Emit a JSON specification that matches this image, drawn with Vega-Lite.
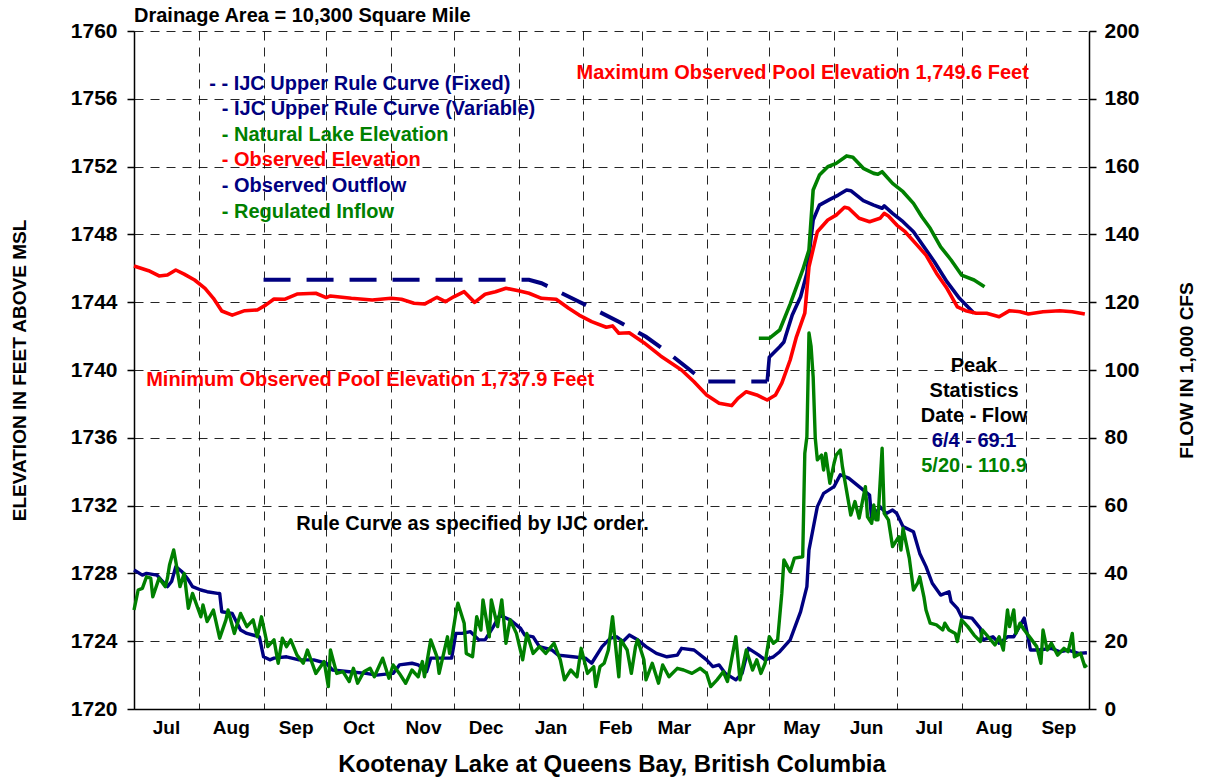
{
  "$schema": "https://vega.github.io/schema/vega-lite/v6.json",
  "width": 955,
  "height": 678,
  "autosize": {"type": "none"},
  "padding": {"left": 134, "top": 31, "right": 117, "bottom": 72},
  "background": "white",
  "config": {"font": "Liberation Sans", "view": {"stroke": null}},
  "datasets": {
    "elevation": [
      {"series": "IJC Upper Rule Curve (Fixed)", "date": "2021-09-01", "elev": 1745.32},
      {"series": "IJC Upper Rule Curve (Fixed)", "date": "2022-01-06", "elev": 1745.32},
      {"series": "IJC Upper Rule Curve (Fixed)", "date": "2022-01-12", "elev": 1745.12},
      {"series": "IJC Upper Rule Curve (Fixed)", "date": "2022-01-30", "elev": 1744.03},
      {"series": "IJC Upper Rule Curve (Fixed)", "date": "2022-02-18", "elev": 1742.85},
      {"series": "IJC Upper Rule Curve (Fixed)", "date": "2022-03-03", "elev": 1741.96},
      {"series": "IJC Upper Rule Curve (Fixed)", "date": "2022-03-13", "elev": 1741.08},
      {"series": "IJC Upper Rule Curve (Fixed)", "date": "2022-03-23", "elev": 1740.10},
      {"series": "IJC Upper Rule Curve (Fixed)", "date": "2022-03-29", "elev": 1739.51},
      {"series": "IJC Upper Rule Curve (Fixed)", "date": "2022-04-01", "elev": 1739.32},
      {"series": "IJC Upper Rule Curve (Fixed)", "date": "2022-04-30", "elev": 1739.32},

      {"series": "IJC Upper Rule Curve (Variable)", "date": "2022-04-30", "elev": 1739.32},
      {"series": "IJC Upper Rule Curve (Variable)", "date": "2022-05-01", "elev": 1740.75},
      {"series": "IJC Upper Rule Curve (Variable)", "date": "2022-05-06", "elev": 1741.37},
      {"series": "IJC Upper Rule Curve (Variable)", "date": "2022-05-08", "elev": 1741.65},
      {"series": "IJC Upper Rule Curve (Variable)", "date": "2022-05-09", "elev": 1742.06},
      {"series": "IJC Upper Rule Curve (Variable)", "date": "2022-05-12", "elev": 1743.24},
      {"series": "IJC Upper Rule Curve (Variable)", "date": "2022-05-16", "elev": 1744.32},
      {"series": "IJC Upper Rule Curve (Variable)", "date": "2022-05-19", "elev": 1745.71},
      {"series": "IJC Upper Rule Curve (Variable)", "date": "2022-05-22", "elev": 1748.85},
      {"series": "IJC Upper Rule Curve (Variable)", "date": "2022-05-25", "elev": 1749.73},
      {"series": "IJC Upper Rule Curve (Variable)", "date": "2022-05-30", "elev": 1750.07},
      {"series": "IJC Upper Rule Curve (Variable)", "date": "2022-06-03", "elev": 1750.32},
      {"series": "IJC Upper Rule Curve (Variable)", "date": "2022-06-07", "elev": 1750.62},
      {"series": "IJC Upper Rule Curve (Variable)", "date": "2022-06-09", "elev": 1750.58},
      {"series": "IJC Upper Rule Curve (Variable)", "date": "2022-06-15", "elev": 1749.99},
      {"series": "IJC Upper Rule Curve (Variable)", "date": "2022-06-20", "elev": 1749.73},
      {"series": "IJC Upper Rule Curve (Variable)", "date": "2022-06-24", "elev": 1749.54},
      {"series": "IJC Upper Rule Curve (Variable)", "date": "2022-06-25", "elev": 1749.68},
      {"series": "IJC Upper Rule Curve (Variable)", "date": "2022-06-29", "elev": 1749.24},
      {"series": "IJC Upper Rule Curve (Variable)", "date": "2022-07-04", "elev": 1748.75},
      {"series": "IJC Upper Rule Curve (Variable)", "date": "2022-07-09", "elev": 1748.16},
      {"series": "IJC Upper Rule Curve (Variable)", "date": "2022-07-14", "elev": 1747.27},
      {"series": "IJC Upper Rule Curve (Variable)", "date": "2022-07-19", "elev": 1746.39},
      {"series": "IJC Upper Rule Curve (Variable)", "date": "2022-07-25", "elev": 1745.21},
      {"series": "IJC Upper Rule Curve (Variable)", "date": "2022-07-31", "elev": 1744.23},
      {"series": "IJC Upper Rule Curve (Variable)", "date": "2022-08-07", "elev": 1743.35},

      {"series": "Natural Lake Elevation", "date": "2022-04-26", "elev": 1741.87},
      {"series": "Natural Lake Elevation", "date": "2022-05-01", "elev": 1741.87},
      {"series": "Natural Lake Elevation", "date": "2022-05-06", "elev": 1742.36},
      {"series": "Natural Lake Elevation", "date": "2022-05-11", "elev": 1743.89},
      {"series": "Natural Lake Elevation", "date": "2022-05-17", "elev": 1745.90},
      {"series": "Natural Lake Elevation", "date": "2022-05-20", "elev": 1747.08},
      {"series": "Natural Lake Elevation", "date": "2022-05-22", "elev": 1750.62},
      {"series": "Natural Lake Elevation", "date": "2022-05-25", "elev": 1751.50},
      {"series": "Natural Lake Elevation", "date": "2022-05-29", "elev": 1751.99},
      {"series": "Natural Lake Elevation", "date": "2022-06-02", "elev": 1752.19},
      {"series": "Natural Lake Elevation", "date": "2022-06-07", "elev": 1752.63},
      {"series": "Natural Lake Elevation", "date": "2022-06-10", "elev": 1752.55},
      {"series": "Natural Lake Elevation", "date": "2022-06-15", "elev": 1751.90},
      {"series": "Natural Lake Elevation", "date": "2022-06-20", "elev": 1751.60},
      {"series": "Natural Lake Elevation", "date": "2022-06-22", "elev": 1751.55},
      {"series": "Natural Lake Elevation", "date": "2022-06-24", "elev": 1751.70},
      {"series": "Natural Lake Elevation", "date": "2022-06-29", "elev": 1751.01},
      {"series": "Natural Lake Elevation", "date": "2022-07-04", "elev": 1750.52},
      {"series": "Natural Lake Elevation", "date": "2022-07-09", "elev": 1749.83},
      {"series": "Natural Lake Elevation", "date": "2022-07-13", "elev": 1749.04},
      {"series": "Natural Lake Elevation", "date": "2022-07-17", "elev": 1748.36},
      {"series": "Natural Lake Elevation", "date": "2022-07-22", "elev": 1747.27},
      {"series": "Natural Lake Elevation", "date": "2022-07-27", "elev": 1746.49},
      {"series": "Natural Lake Elevation", "date": "2022-08-01", "elev": 1745.60},
      {"series": "Natural Lake Elevation", "date": "2022-08-07", "elev": 1745.31},
      {"series": "Natural Lake Elevation", "date": "2022-08-12", "elev": 1744.91},

      {"series": "Observed Elevation", "date": "2021-07-01", "elev": 1746.14},
      {"series": "Observed Elevation", "date": "2021-07-08", "elev": 1745.86},
      {"series": "Observed Elevation", "date": "2021-07-13", "elev": 1745.55},
      {"series": "Observed Elevation", "date": "2021-07-17", "elev": 1745.60},
      {"series": "Observed Elevation", "date": "2021-07-21", "elev": 1745.90},
      {"series": "Observed Elevation", "date": "2021-07-25", "elev": 1745.66},
      {"series": "Observed Elevation", "date": "2021-07-30", "elev": 1745.31},
      {"series": "Observed Elevation", "date": "2021-08-04", "elev": 1744.82},
      {"series": "Observed Elevation", "date": "2021-08-08", "elev": 1744.23},
      {"series": "Observed Elevation", "date": "2021-08-12", "elev": 1743.48},
      {"series": "Observed Elevation", "date": "2021-08-17", "elev": 1743.24},
      {"series": "Observed Elevation", "date": "2021-08-23", "elev": 1743.50},
      {"series": "Observed Elevation", "date": "2021-08-29", "elev": 1743.54},
      {"series": "Observed Elevation", "date": "2021-09-02", "elev": 1743.83},
      {"series": "Observed Elevation", "date": "2021-09-06", "elev": 1744.19},
      {"series": "Observed Elevation", "date": "2021-09-11", "elev": 1744.17},
      {"series": "Observed Elevation", "date": "2021-09-17", "elev": 1744.48},
      {"series": "Observed Elevation", "date": "2021-09-26", "elev": 1744.53},
      {"series": "Observed Elevation", "date": "2021-10-01", "elev": 1744.27},
      {"series": "Observed Elevation", "date": "2021-10-03", "elev": 1744.37},
      {"series": "Observed Elevation", "date": "2021-10-13", "elev": 1744.23},
      {"series": "Observed Elevation", "date": "2021-10-23", "elev": 1744.13},
      {"series": "Observed Elevation", "date": "2021-11-01", "elev": 1744.23},
      {"series": "Observed Elevation", "date": "2021-11-06", "elev": 1744.17},
      {"series": "Observed Elevation", "date": "2021-11-12", "elev": 1743.94},
      {"series": "Observed Elevation", "date": "2021-11-17", "elev": 1743.89},
      {"series": "Observed Elevation", "date": "2021-11-23", "elev": 1744.29},
      {"series": "Observed Elevation", "date": "2021-11-27", "elev": 1744.03},
      {"series": "Observed Elevation", "date": "2021-12-01", "elev": 1744.32},
      {"series": "Observed Elevation", "date": "2021-12-06", "elev": 1744.62},
      {"series": "Observed Elevation", "date": "2021-12-11", "elev": 1743.99},
      {"series": "Observed Elevation", "date": "2021-12-16", "elev": 1744.47},
      {"series": "Observed Elevation", "date": "2021-12-21", "elev": 1744.62},
      {"series": "Observed Elevation", "date": "2021-12-26", "elev": 1744.82},
      {"series": "Observed Elevation", "date": "2022-01-01", "elev": 1744.68},
      {"series": "Observed Elevation", "date": "2022-01-06", "elev": 1744.53},
      {"series": "Observed Elevation", "date": "2022-01-12", "elev": 1744.23},
      {"series": "Observed Elevation", "date": "2022-01-19", "elev": 1744.17},
      {"series": "Observed Elevation", "date": "2022-01-25", "elev": 1743.64},
      {"series": "Observed Elevation", "date": "2022-01-30", "elev": 1743.24},
      {"series": "Observed Elevation", "date": "2022-02-05", "elev": 1742.85},
      {"series": "Observed Elevation", "date": "2022-02-12", "elev": 1742.52},
      {"series": "Observed Elevation", "date": "2022-02-15", "elev": 1742.60},
      {"series": "Observed Elevation", "date": "2022-02-18", "elev": 1742.17},
      {"series": "Observed Elevation", "date": "2022-02-23", "elev": 1742.20},
      {"series": "Observed Elevation", "date": "2022-03-02", "elev": 1741.61},
      {"series": "Observed Elevation", "date": "2022-03-10", "elev": 1740.83},
      {"series": "Observed Elevation", "date": "2022-03-20", "elev": 1740.00},
      {"series": "Observed Elevation", "date": "2022-03-26", "elev": 1739.31},
      {"series": "Observed Elevation", "date": "2022-04-01", "elev": 1738.53},
      {"series": "Observed Elevation", "date": "2022-04-07", "elev": 1738.04},
      {"series": "Observed Elevation", "date": "2022-04-13", "elev": 1737.90},
      {"series": "Observed Elevation", "date": "2022-04-16", "elev": 1738.33},
      {"series": "Observed Elevation", "date": "2022-04-20", "elev": 1738.72},
      {"series": "Observed Elevation", "date": "2022-04-25", "elev": 1738.53},
      {"series": "Observed Elevation", "date": "2022-04-30", "elev": 1738.23},
      {"series": "Observed Elevation", "date": "2022-05-04", "elev": 1738.53},
      {"series": "Observed Elevation", "date": "2022-05-07", "elev": 1739.22},
      {"series": "Observed Elevation", "date": "2022-05-11", "elev": 1740.59},
      {"series": "Observed Elevation", "date": "2022-05-14", "elev": 1741.96},
      {"series": "Observed Elevation", "date": "2022-05-18", "elev": 1743.35},
      {"series": "Observed Elevation", "date": "2022-05-20", "elev": 1746.09},
      {"series": "Observed Elevation", "date": "2022-05-24", "elev": 1748.16},
      {"series": "Observed Elevation", "date": "2022-05-29", "elev": 1748.85},
      {"series": "Observed Elevation", "date": "2022-06-02", "elev": 1749.14},
      {"series": "Observed Elevation", "date": "2022-06-06", "elev": 1749.60},
      {"series": "Observed Elevation", "date": "2022-06-08", "elev": 1749.54},
      {"series": "Observed Elevation", "date": "2022-06-13", "elev": 1748.95},
      {"series": "Observed Elevation", "date": "2022-06-18", "elev": 1748.75},
      {"series": "Observed Elevation", "date": "2022-06-23", "elev": 1748.95},
      {"series": "Observed Elevation", "date": "2022-06-25", "elev": 1749.24},
      {"series": "Observed Elevation", "date": "2022-06-27", "elev": 1749.09},
      {"series": "Observed Elevation", "date": "2022-07-01", "elev": 1748.55},
      {"series": "Observed Elevation", "date": "2022-07-05", "elev": 1748.16},
      {"series": "Observed Elevation", "date": "2022-07-10", "elev": 1747.47},
      {"series": "Observed Elevation", "date": "2022-07-15", "elev": 1746.78},
      {"series": "Observed Elevation", "date": "2022-07-20", "elev": 1745.71},
      {"series": "Observed Elevation", "date": "2022-07-25", "elev": 1744.82},
      {"series": "Observed Elevation", "date": "2022-07-30", "elev": 1743.73},
      {"series": "Observed Elevation", "date": "2022-08-03", "elev": 1743.50},
      {"series": "Observed Elevation", "date": "2022-08-08", "elev": 1743.35},
      {"series": "Observed Elevation", "date": "2022-08-13", "elev": 1743.35},
      {"series": "Observed Elevation", "date": "2022-08-19", "elev": 1743.14},
      {"series": "Observed Elevation", "date": "2022-08-24", "elev": 1743.50},
      {"series": "Observed Elevation", "date": "2022-08-29", "elev": 1743.44},
      {"series": "Observed Elevation", "date": "2022-09-02", "elev": 1743.30},
      {"series": "Observed Elevation", "date": "2022-09-09", "elev": 1743.44},
      {"series": "Observed Elevation", "date": "2022-09-17", "elev": 1743.50},
      {"series": "Observed Elevation", "date": "2022-09-23", "elev": 1743.44},
      {"series": "Observed Elevation", "date": "2022-09-29", "elev": 1743.30}
    ],
    "flow": [
      {"series": "Observed Outflow", "date": "2021-07-01", "flow": 41.0},
      {"series": "Observed Outflow", "date": "2021-07-05", "flow": 39.5},
      {"series": "Observed Outflow", "date": "2021-07-07", "flow": 40.0},
      {"series": "Observed Outflow", "date": "2021-07-12", "flow": 39.5},
      {"series": "Observed Outflow", "date": "2021-07-14", "flow": 38.1},
      {"series": "Observed Outflow", "date": "2021-07-17", "flow": 36.1},
      {"series": "Observed Outflow", "date": "2021-07-19", "flow": 37.6},
      {"series": "Observed Outflow", "date": "2021-07-21", "flow": 42.0},
      {"series": "Observed Outflow", "date": "2021-07-24", "flow": 40.5},
      {"series": "Observed Outflow", "date": "2021-07-27", "flow": 38.1},
      {"series": "Observed Outflow", "date": "2021-07-29", "flow": 36.1},
      {"series": "Observed Outflow", "date": "2021-08-02", "flow": 35.1},
      {"series": "Observed Outflow", "date": "2021-08-05", "flow": 34.6},
      {"series": "Observed Outflow", "date": "2021-08-10", "flow": 34.1},
      {"series": "Observed Outflow", "date": "2021-08-11", "flow": 34.1},
      {"series": "Observed Outflow", "date": "2021-08-12", "flow": 28.7},
      {"series": "Observed Outflow", "date": "2021-08-17", "flow": 28.2},
      {"series": "Observed Outflow", "date": "2021-08-21", "flow": 23.3},
      {"series": "Observed Outflow", "date": "2021-08-24", "flow": 22.3},
      {"series": "Observed Outflow", "date": "2021-08-30", "flow": 21.3},
      {"series": "Observed Outflow", "date": "2021-09-01", "flow": 15.4},
      {"series": "Observed Outflow", "date": "2021-09-04", "flow": 14.5},
      {"series": "Observed Outflow", "date": "2021-09-06", "flow": 15.0},
      {"series": "Observed Outflow", "date": "2021-09-12", "flow": 15.4},
      {"series": "Observed Outflow", "date": "2021-09-18", "flow": 14.5},
      {"series": "Observed Outflow", "date": "2021-09-25", "flow": 14.5},
      {"series": "Observed Outflow", "date": "2021-10-01", "flow": 13.5},
      {"series": "Observed Outflow", "date": "2021-10-04", "flow": 11.5},
      {"series": "Observed Outflow", "date": "2021-10-12", "flow": 11.0},
      {"series": "Observed Outflow", "date": "2021-10-20", "flow": 10.5},
      {"series": "Observed Outflow", "date": "2021-10-25", "flow": 10.0},
      {"series": "Observed Outflow", "date": "2021-11-02", "flow": 10.5},
      {"series": "Observed Outflow", "date": "2021-11-05", "flow": 13.0},
      {"series": "Observed Outflow", "date": "2021-11-11", "flow": 13.5},
      {"series": "Observed Outflow", "date": "2021-11-14", "flow": 13.0},
      {"series": "Observed Outflow", "date": "2021-11-18", "flow": 11.0},
      {"series": "Observed Outflow", "date": "2021-11-20", "flow": 15.0},
      {"series": "Observed Outflow", "date": "2021-11-30", "flow": 15.0},
      {"series": "Observed Outflow", "date": "2021-12-02", "flow": 22.3},
      {"series": "Observed Outflow", "date": "2021-12-05", "flow": 22.3},
      {"series": "Observed Outflow", "date": "2021-12-09", "flow": 22.8},
      {"series": "Observed Outflow", "date": "2021-12-13", "flow": 20.4},
      {"series": "Observed Outflow", "date": "2021-12-16", "flow": 20.4},
      {"series": "Observed Outflow", "date": "2021-12-20", "flow": 24.3},
      {"series": "Observed Outflow", "date": "2021-12-23", "flow": 27.7},
      {"series": "Observed Outflow", "date": "2021-12-28", "flow": 26.3},
      {"series": "Observed Outflow", "date": "2022-01-02", "flow": 23.8},
      {"series": "Observed Outflow", "date": "2022-01-04", "flow": 21.8},
      {"series": "Observed Outflow", "date": "2022-01-08", "flow": 21.3},
      {"series": "Observed Outflow", "date": "2022-01-11", "flow": 18.4},
      {"series": "Observed Outflow", "date": "2022-01-17", "flow": 17.4},
      {"series": "Observed Outflow", "date": "2022-01-20", "flow": 15.9},
      {"series": "Observed Outflow", "date": "2022-01-27", "flow": 15.4},
      {"series": "Observed Outflow", "date": "2022-02-02", "flow": 15.0},
      {"series": "Observed Outflow", "date": "2022-02-05", "flow": 13.5},
      {"series": "Observed Outflow", "date": "2022-02-10", "flow": 18.4},
      {"series": "Observed Outflow", "date": "2022-02-14", "flow": 20.9},
      {"series": "Observed Outflow", "date": "2022-02-17", "flow": 21.3},
      {"series": "Observed Outflow", "date": "2022-02-20", "flow": 19.9},
      {"series": "Observed Outflow", "date": "2022-02-23", "flow": 21.8},
      {"series": "Observed Outflow", "date": "2022-02-27", "flow": 20.4},
      {"series": "Observed Outflow", "date": "2022-03-03", "flow": 18.4},
      {"series": "Observed Outflow", "date": "2022-03-08", "flow": 16.4},
      {"series": "Observed Outflow", "date": "2022-03-13", "flow": 15.4},
      {"series": "Observed Outflow", "date": "2022-03-18", "flow": 15.9},
      {"series": "Observed Outflow", "date": "2022-03-20", "flow": 17.9},
      {"series": "Observed Outflow", "date": "2022-03-26", "flow": 17.4},
      {"series": "Observed Outflow", "date": "2022-04-01", "flow": 14.5},
      {"series": "Observed Outflow", "date": "2022-04-04", "flow": 12.5},
      {"series": "Observed Outflow", "date": "2022-04-07", "flow": 13.0},
      {"series": "Observed Outflow", "date": "2022-04-10", "flow": 10.5},
      {"series": "Observed Outflow", "date": "2022-04-15", "flow": 8.6},
      {"series": "Observed Outflow", "date": "2022-04-18", "flow": 10.5},
      {"series": "Observed Outflow", "date": "2022-04-21", "flow": 17.9},
      {"series": "Observed Outflow", "date": "2022-04-26", "flow": 15.9},
      {"series": "Observed Outflow", "date": "2022-04-29", "flow": 14.5},
      {"series": "Observed Outflow", "date": "2022-05-03", "flow": 15.4},
      {"series": "Observed Outflow", "date": "2022-05-06", "flow": 16.9},
      {"series": "Observed Outflow", "date": "2022-05-11", "flow": 20.4},
      {"series": "Observed Outflow", "date": "2022-05-16", "flow": 28.7},
      {"series": "Observed Outflow", "date": "2022-05-19", "flow": 36.1},
      {"series": "Observed Outflow", "date": "2022-05-20", "flow": 46.9},
      {"series": "Observed Outflow", "date": "2022-05-24", "flow": 59.7},
      {"series": "Observed Outflow", "date": "2022-05-27", "flow": 63.6},
      {"series": "Observed Outflow", "date": "2022-06-01", "flow": 65.6},
      {"series": "Observed Outflow", "date": "2022-06-04", "flow": 69.1},
      {"series": "Observed Outflow", "date": "2022-06-08", "flow": 68.1},
      {"series": "Observed Outflow", "date": "2022-06-13", "flow": 65.6},
      {"series": "Observed Outflow", "date": "2022-06-18", "flow": 63.1},
      {"series": "Observed Outflow", "date": "2022-06-19", "flow": 55.8},
      {"series": "Observed Outflow", "date": "2022-06-23", "flow": 59.7},
      {"series": "Observed Outflow", "date": "2022-06-26", "flow": 57.7},
      {"series": "Observed Outflow", "date": "2022-06-29", "flow": 58.7},
      {"series": "Observed Outflow", "date": "2022-07-01", "flow": 57.7},
      {"series": "Observed Outflow", "date": "2022-07-04", "flow": 53.8},
      {"series": "Observed Outflow", "date": "2022-07-09", "flow": 52.3},
      {"series": "Observed Outflow", "date": "2022-07-12", "flow": 45.9},
      {"series": "Observed Outflow", "date": "2022-07-15", "flow": 42.0},
      {"series": "Observed Outflow", "date": "2022-07-18", "flow": 37.1},
      {"series": "Observed Outflow", "date": "2022-07-22", "flow": 33.6},
      {"series": "Observed Outflow", "date": "2022-07-26", "flow": 34.6},
      {"series": "Observed Outflow", "date": "2022-07-27", "flow": 31.7},
      {"series": "Observed Outflow", "date": "2022-07-30", "flow": 29.7},
      {"series": "Observed Outflow", "date": "2022-08-01", "flow": 27.2},
      {"series": "Observed Outflow", "date": "2022-08-06", "flow": 26.8},
      {"series": "Observed Outflow", "date": "2022-08-10", "flow": 23.8},
      {"series": "Observed Outflow", "date": "2022-08-11", "flow": 20.4},
      {"series": "Observed Outflow", "date": "2022-08-16", "flow": 21.3},
      {"series": "Observed Outflow", "date": "2022-08-19", "flow": 19.4},
      {"series": "Observed Outflow", "date": "2022-08-23", "flow": 21.3},
      {"series": "Observed Outflow", "date": "2022-08-26", "flow": 21.3},
      {"series": "Observed Outflow", "date": "2022-08-31", "flow": 26.8},
      {"series": "Observed Outflow", "date": "2022-09-03", "flow": 17.4},
      {"series": "Observed Outflow", "date": "2022-09-07", "flow": 17.4},
      {"series": "Observed Outflow", "date": "2022-09-13", "flow": 17.9},
      {"series": "Observed Outflow", "date": "2022-09-17", "flow": 16.9},
      {"series": "Observed Outflow", "date": "2022-09-21", "flow": 17.4},
      {"series": "Observed Outflow", "date": "2022-09-26", "flow": 16.4},
      {"series": "Observed Outflow", "date": "2022-09-30", "flow": 16.6},

      {"series": "Regulated Inflow", "date": "2021-07-01", "flow": 29.2},
      {"series": "Regulated Inflow", "date": "2021-07-03", "flow": 35.1},
      {"series": "Regulated Inflow", "date": "2021-07-05", "flow": 35.6},
      {"series": "Regulated Inflow", "date": "2021-07-07", "flow": 39.0},
      {"series": "Regulated Inflow", "date": "2021-07-09", "flow": 38.6},
      {"series": "Regulated Inflow", "date": "2021-07-10", "flow": 33.1},
      {"series": "Regulated Inflow", "date": "2021-07-13", "flow": 38.6},
      {"series": "Regulated Inflow", "date": "2021-07-16", "flow": 36.1},
      {"series": "Regulated Inflow", "date": "2021-07-17", "flow": 38.6},
      {"series": "Regulated Inflow", "date": "2021-07-18", "flow": 42.5},
      {"series": "Regulated Inflow", "date": "2021-07-20", "flow": 46.9},
      {"series": "Regulated Inflow", "date": "2021-07-21", "flow": 43.5},
      {"series": "Regulated Inflow", "date": "2021-07-23", "flow": 36.1},
      {"series": "Regulated Inflow", "date": "2021-07-25", "flow": 40.0},
      {"series": "Regulated Inflow", "date": "2021-07-27", "flow": 29.7},
      {"series": "Regulated Inflow", "date": "2021-07-29", "flow": 34.1},
      {"series": "Regulated Inflow", "date": "2021-08-02", "flow": 27.2},
      {"series": "Regulated Inflow", "date": "2021-08-03", "flow": 30.7},
      {"series": "Regulated Inflow", "date": "2021-08-05", "flow": 25.8},
      {"series": "Regulated Inflow", "date": "2021-08-08", "flow": 29.2},
      {"series": "Regulated Inflow", "date": "2021-08-11", "flow": 20.9},
      {"series": "Regulated Inflow", "date": "2021-08-14", "flow": 26.3},
      {"series": "Regulated Inflow", "date": "2021-08-15", "flow": 29.2},
      {"series": "Regulated Inflow", "date": "2021-08-18", "flow": 22.3},
      {"series": "Regulated Inflow", "date": "2021-08-21", "flow": 28.2},
      {"series": "Regulated Inflow", "date": "2021-08-24", "flow": 24.3},
      {"series": "Regulated Inflow", "date": "2021-08-27", "flow": 26.3},
      {"series": "Regulated Inflow", "date": "2021-08-29", "flow": 21.3},
      {"series": "Regulated Inflow", "date": "2021-08-31", "flow": 27.2},
      {"series": "Regulated Inflow", "date": "2021-09-03", "flow": 18.4},
      {"series": "Regulated Inflow", "date": "2021-09-06", "flow": 20.4},
      {"series": "Regulated Inflow", "date": "2021-09-08", "flow": 13.5},
      {"series": "Regulated Inflow", "date": "2021-09-10", "flow": 20.9},
      {"series": "Regulated Inflow", "date": "2021-09-12", "flow": 18.4},
      {"series": "Regulated Inflow", "date": "2021-09-14", "flow": 20.4},
      {"series": "Regulated Inflow", "date": "2021-09-17", "flow": 15.9},
      {"series": "Regulated Inflow", "date": "2021-09-20", "flow": 13.5},
      {"series": "Regulated Inflow", "date": "2021-09-22", "flow": 17.4},
      {"series": "Regulated Inflow", "date": "2021-09-26", "flow": 10.5},
      {"series": "Regulated Inflow", "date": "2021-09-30", "flow": 14.0},
      {"series": "Regulated Inflow", "date": "2021-10-02", "flow": 6.6},
      {"series": "Regulated Inflow", "date": "2021-10-03", "flow": 17.4},
      {"series": "Regulated Inflow", "date": "2021-10-06", "flow": 10.5},
      {"series": "Regulated Inflow", "date": "2021-10-09", "flow": 11.0},
      {"series": "Regulated Inflow", "date": "2021-10-12", "flow": 8.1},
      {"series": "Regulated Inflow", "date": "2021-10-14", "flow": 12.0},
      {"series": "Regulated Inflow", "date": "2021-10-16", "flow": 7.6},
      {"series": "Regulated Inflow", "date": "2021-10-19", "flow": 11.0},
      {"series": "Regulated Inflow", "date": "2021-10-22", "flow": 12.0},
      {"series": "Regulated Inflow", "date": "2021-10-24", "flow": 9.5},
      {"series": "Regulated Inflow", "date": "2021-10-28", "flow": 15.0},
      {"series": "Regulated Inflow", "date": "2021-10-31", "flow": 9.1},
      {"series": "Regulated Inflow", "date": "2021-11-02", "flow": 13.0},
      {"series": "Regulated Inflow", "date": "2021-11-05", "flow": 10.5},
      {"series": "Regulated Inflow", "date": "2021-11-08", "flow": 7.6},
      {"series": "Regulated Inflow", "date": "2021-11-11", "flow": 11.5},
      {"series": "Regulated Inflow", "date": "2021-11-14", "flow": 9.5},
      {"series": "Regulated Inflow", "date": "2021-11-16", "flow": 14.0},
      {"series": "Regulated Inflow", "date": "2021-11-17", "flow": 9.5},
      {"series": "Regulated Inflow", "date": "2021-11-20", "flow": 20.4},
      {"series": "Regulated Inflow", "date": "2021-11-23", "flow": 15.4},
      {"series": "Regulated Inflow", "date": "2021-11-24", "flow": 10.5},
      {"series": "Regulated Inflow", "date": "2021-11-28", "flow": 21.3},
      {"series": "Regulated Inflow", "date": "2021-11-29", "flow": 16.4},
      {"series": "Regulated Inflow", "date": "2021-12-02", "flow": 28.2},
      {"series": "Regulated Inflow", "date": "2021-12-03", "flow": 31.2},
      {"series": "Regulated Inflow", "date": "2021-12-06", "flow": 25.3},
      {"series": "Regulated Inflow", "date": "2021-12-07", "flow": 16.4},
      {"series": "Regulated Inflow", "date": "2021-12-10", "flow": 15.4},
      {"series": "Regulated Inflow", "date": "2021-12-12", "flow": 27.2},
      {"series": "Regulated Inflow", "date": "2021-12-14", "flow": 23.3},
      {"series": "Regulated Inflow", "date": "2021-12-15", "flow": 32.2},
      {"series": "Regulated Inflow", "date": "2021-12-18", "flow": 21.3},
      {"series": "Regulated Inflow", "date": "2021-12-19", "flow": 32.2},
      {"series": "Regulated Inflow", "date": "2021-12-22", "flow": 24.3},
      {"series": "Regulated Inflow", "date": "2021-12-24", "flow": 32.2},
      {"series": "Regulated Inflow", "date": "2021-12-26", "flow": 19.4},
      {"series": "Regulated Inflow", "date": "2021-12-28", "flow": 26.3},
      {"series": "Regulated Inflow", "date": "2021-12-31", "flow": 22.3},
      {"series": "Regulated Inflow", "date": "2022-01-03", "flow": 14.5},
      {"series": "Regulated Inflow", "date": "2022-01-05", "flow": 22.3},
      {"series": "Regulated Inflow", "date": "2022-01-08", "flow": 16.4},
      {"series": "Regulated Inflow", "date": "2022-01-11", "flow": 18.4},
      {"series": "Regulated Inflow", "date": "2022-01-14", "flow": 16.4},
      {"series": "Regulated Inflow", "date": "2022-01-18", "flow": 19.4},
      {"series": "Regulated Inflow", "date": "2022-01-21", "flow": 14.5},
      {"series": "Regulated Inflow", "date": "2022-01-23", "flow": 8.6},
      {"series": "Regulated Inflow", "date": "2022-01-26", "flow": 11.5},
      {"series": "Regulated Inflow", "date": "2022-01-29", "flow": 9.5},
      {"series": "Regulated Inflow", "date": "2022-01-31", "flow": 17.9},
      {"series": "Regulated Inflow", "date": "2022-02-03", "flow": 10.5},
      {"series": "Regulated Inflow", "date": "2022-02-06", "flow": 12.5},
      {"series": "Regulated Inflow", "date": "2022-02-07", "flow": 6.6},
      {"series": "Regulated Inflow", "date": "2022-02-09", "flow": 12.5},
      {"series": "Regulated Inflow", "date": "2022-02-11", "flow": 13.5},
      {"series": "Regulated Inflow", "date": "2022-02-13", "flow": 17.4},
      {"series": "Regulated Inflow", "date": "2022-02-15", "flow": 27.2},
      {"series": "Regulated Inflow", "date": "2022-02-16", "flow": 21.3},
      {"series": "Regulated Inflow", "date": "2022-02-18", "flow": 9.5},
      {"series": "Regulated Inflow", "date": "2022-02-19", "flow": 20.4},
      {"series": "Regulated Inflow", "date": "2022-02-22", "flow": 17.4},
      {"series": "Regulated Inflow", "date": "2022-02-24", "flow": 10.5},
      {"series": "Regulated Inflow", "date": "2022-02-26", "flow": 18.4},
      {"series": "Regulated Inflow", "date": "2022-02-27", "flow": 20.4},
      {"series": "Regulated Inflow", "date": "2022-03-02", "flow": 14.5},
      {"series": "Regulated Inflow", "date": "2022-03-03", "flow": 8.6},
      {"series": "Regulated Inflow", "date": "2022-03-06", "flow": 13.5},
      {"series": "Regulated Inflow", "date": "2022-03-09", "flow": 7.6},
      {"series": "Regulated Inflow", "date": "2022-03-11", "flow": 13.0},
      {"series": "Regulated Inflow", "date": "2022-03-14", "flow": 9.5},
      {"series": "Regulated Inflow", "date": "2022-03-18", "flow": 12.0},
      {"series": "Regulated Inflow", "date": "2022-03-21", "flow": 11.5},
      {"series": "Regulated Inflow", "date": "2022-03-25", "flow": 10.5},
      {"series": "Regulated Inflow", "date": "2022-03-29", "flow": 12.0},
      {"series": "Regulated Inflow", "date": "2022-04-01", "flow": 10.5},
      {"series": "Regulated Inflow", "date": "2022-04-03", "flow": 6.6},
      {"series": "Regulated Inflow", "date": "2022-04-06", "flow": 8.6},
      {"series": "Regulated Inflow", "date": "2022-04-09", "flow": 11.0},
      {"series": "Regulated Inflow", "date": "2022-04-11", "flow": 8.1},
      {"series": "Regulated Inflow", "date": "2022-04-15", "flow": 21.3},
      {"series": "Regulated Inflow", "date": "2022-04-17", "flow": 8.6},
      {"series": "Regulated Inflow", "date": "2022-04-20", "flow": 17.4},
      {"series": "Regulated Inflow", "date": "2022-04-23", "flow": 11.5},
      {"series": "Regulated Inflow", "date": "2022-04-25", "flow": 14.5},
      {"series": "Regulated Inflow", "date": "2022-04-27", "flow": 10.5},
      {"series": "Regulated Inflow", "date": "2022-04-29", "flow": 13.5},
      {"series": "Regulated Inflow", "date": "2022-05-01", "flow": 21.3},
      {"series": "Regulated Inflow", "date": "2022-05-03", "flow": 19.4},
      {"series": "Regulated Inflow", "date": "2022-05-05", "flow": 20.4},
      {"series": "Regulated Inflow", "date": "2022-05-07", "flow": 34.1},
      {"series": "Regulated Inflow", "date": "2022-05-08", "flow": 44.0},
      {"series": "Regulated Inflow", "date": "2022-05-11", "flow": 40.5},
      {"series": "Regulated Inflow", "date": "2022-05-13", "flow": 44.5},
      {"series": "Regulated Inflow", "date": "2022-05-17", "flow": 44.9},
      {"series": "Regulated Inflow", "date": "2022-05-18", "flow": 75.4},
      {"series": "Regulated Inflow", "date": "2022-05-19", "flow": 80.3},
      {"series": "Regulated Inflow", "date": "2022-05-20", "flow": 110.9},
      {"series": "Regulated Inflow", "date": "2022-05-21", "flow": 107.0},
      {"series": "Regulated Inflow", "date": "2022-05-22", "flow": 98.0},
      {"series": "Regulated Inflow", "date": "2022-05-23", "flow": 80.0},
      {"series": "Regulated Inflow", "date": "2022-05-24", "flow": 73.5},
      {"series": "Regulated Inflow", "date": "2022-05-26", "flow": 74.9},
      {"series": "Regulated Inflow", "date": "2022-05-27", "flow": 70.5},
      {"series": "Regulated Inflow", "date": "2022-05-28", "flow": 75.4},
      {"series": "Regulated Inflow", "date": "2022-05-30", "flow": 66.6},
      {"series": "Regulated Inflow", "date": "2022-06-01", "flow": 72.5},
      {"series": "Regulated Inflow", "date": "2022-06-02", "flow": 74.9},
      {"series": "Regulated Inflow", "date": "2022-06-04", "flow": 76.4},
      {"series": "Regulated Inflow", "date": "2022-06-05", "flow": 71.5},
      {"series": "Regulated Inflow", "date": "2022-06-09", "flow": 57.2},
      {"series": "Regulated Inflow", "date": "2022-06-11", "flow": 61.2},
      {"series": "Regulated Inflow", "date": "2022-06-13", "flow": 56.3},
      {"series": "Regulated Inflow", "date": "2022-06-16", "flow": 65.6},
      {"series": "Regulated Inflow", "date": "2022-06-17", "flow": 56.7},
      {"series": "Regulated Inflow", "date": "2022-06-19", "flow": 54.8},
      {"series": "Regulated Inflow", "date": "2022-06-20", "flow": 60.2},
      {"series": "Regulated Inflow", "date": "2022-06-21", "flow": 55.8},
      {"series": "Regulated Inflow", "date": "2022-06-22", "flow": 55.8},
      {"series": "Regulated Inflow", "date": "2022-06-24", "flow": 76.9},
      {"series": "Regulated Inflow", "date": "2022-06-25", "flow": 57.7},
      {"series": "Regulated Inflow", "date": "2022-06-27", "flow": 55.8},
      {"series": "Regulated Inflow", "date": "2022-06-29", "flow": 47.9},
      {"series": "Regulated Inflow", "date": "2022-07-02", "flow": 50.8},
      {"series": "Regulated Inflow", "date": "2022-07-03", "flow": 46.9},
      {"series": "Regulated Inflow", "date": "2022-07-04", "flow": 53.3},
      {"series": "Regulated Inflow", "date": "2022-07-07", "flow": 44.5},
      {"series": "Regulated Inflow", "date": "2022-07-09", "flow": 35.1},
      {"series": "Regulated Inflow", "date": "2022-07-11", "flow": 37.1},
      {"series": "Regulated Inflow", "date": "2022-07-12", "flow": 39.0},
      {"series": "Regulated Inflow", "date": "2022-07-14", "flow": 33.1},
      {"series": "Regulated Inflow", "date": "2022-07-15", "flow": 29.2},
      {"series": "Regulated Inflow", "date": "2022-07-17", "flow": 25.3},
      {"series": "Regulated Inflow", "date": "2022-07-20", "flow": 24.8},
      {"series": "Regulated Inflow", "date": "2022-07-23", "flow": 23.3},
      {"series": "Regulated Inflow", "date": "2022-07-24", "flow": 25.3},
      {"series": "Regulated Inflow", "date": "2022-07-26", "flow": 23.3},
      {"series": "Regulated Inflow", "date": "2022-07-29", "flow": 22.3},
      {"series": "Regulated Inflow", "date": "2022-07-30", "flow": 19.9},
      {"series": "Regulated Inflow", "date": "2022-08-01", "flow": 26.3},
      {"series": "Regulated Inflow", "date": "2022-08-04", "flow": 24.3},
      {"series": "Regulated Inflow", "date": "2022-08-07", "flow": 21.8},
      {"series": "Regulated Inflow", "date": "2022-08-10", "flow": 19.9},
      {"series": "Regulated Inflow", "date": "2022-08-11", "flow": 23.3},
      {"series": "Regulated Inflow", "date": "2022-08-15", "flow": 20.4},
      {"series": "Regulated Inflow", "date": "2022-08-17", "flow": 18.9},
      {"series": "Regulated Inflow", "date": "2022-08-19", "flow": 21.3},
      {"series": "Regulated Inflow", "date": "2022-08-21", "flow": 17.4},
      {"series": "Regulated Inflow", "date": "2022-08-23", "flow": 29.2},
      {"series": "Regulated Inflow", "date": "2022-08-24", "flow": 24.3},
      {"series": "Regulated Inflow", "date": "2022-08-26", "flow": 29.2},
      {"series": "Regulated Inflow", "date": "2022-08-27", "flow": 22.3},
      {"series": "Regulated Inflow", "date": "2022-08-29", "flow": 25.3},
      {"series": "Regulated Inflow", "date": "2022-08-31", "flow": 23.3},
      {"series": "Regulated Inflow", "date": "2022-09-03", "flow": 20.9},
      {"series": "Regulated Inflow", "date": "2022-09-06", "flow": 18.4},
      {"series": "Regulated Inflow", "date": "2022-09-08", "flow": 13.5},
      {"series": "Regulated Inflow", "date": "2022-09-09", "flow": 23.3},
      {"series": "Regulated Inflow", "date": "2022-09-11", "flow": 17.4},
      {"series": "Regulated Inflow", "date": "2022-09-13", "flow": 19.4},
      {"series": "Regulated Inflow", "date": "2022-09-16", "flow": 15.9},
      {"series": "Regulated Inflow", "date": "2022-09-19", "flow": 17.9},
      {"series": "Regulated Inflow", "date": "2022-09-21", "flow": 16.9},
      {"series": "Regulated Inflow", "date": "2022-09-23", "flow": 22.3},
      {"series": "Regulated Inflow", "date": "2022-09-24", "flow": 15.4},
      {"series": "Regulated Inflow", "date": "2022-09-27", "flow": 16.4},
      {"series": "Regulated Inflow", "date": "2022-09-29", "flow": 12.5},
      {"series": "Regulated Inflow", "date": "2022-09-30", "flow": 13.0}
    ],
    "legendText": [
      {"label": "- - IJC Upper Rule Curve (Fixed)", "series": "IJC Upper Rule Curve (Fixed)", "date": "2021-08-06", "elev": 1756.87},
      {"label": "- IJC Upper Rule Curve (Variable)", "series": "IJC Upper Rule Curve (Variable)", "date": "2021-08-12", "elev": 1755.37},
      {"label": "- Natural Lake Elevation", "series": "Natural Lake Elevation", "date": "2021-08-12", "elev": 1753.86},
      {"label": "- Observed Elevation", "series": "Observed Elevation", "date": "2021-08-12", "elev": 1752.36},
      {"label": "- Observed Outflow", "series": "Observed Outflow", "date": "2021-08-12", "elev": 1750.85},
      {"label": "- Regulated Inflow", "series": "Regulated Inflow", "date": "2021-08-12", "elev": 1749.35},
      {"label": "Drainage Area = 10,300 Square Mile", "series": "Note", "date": "2021-07-01", "elev": 1760.90}
    ],
    "notes": [
      {"label": "Maximum Observed Pool Elevation 1,749.6 Feet", "series": "Observed Elevation", "date": "2022-05-17", "elev": 1757.52},
      {"label": "Minimum Observed Pool Elevation 1,737.9 Feet", "series": "Observed Elevation", "date": "2021-10-22", "elev": 1739.41},
      {"label": "Peak", "series": "Note", "date": "2022-08-07", "elev": 1740.24},
      {"label": "Statistics", "series": "Note", "date": "2022-08-07", "elev": 1738.76},
      {"label": "Date - Flow", "series": "Note", "date": "2022-08-07", "elev": 1737.29},
      {"label": "6/4 - 69.1", "series": "Observed Outflow", "date": "2022-08-07", "elev": 1735.81},
      {"label": "5/20 - 110.9", "series": "Regulated Inflow", "date": "2022-08-07", "elev": 1734.34},
      {"label": "Rule Curve as specified by IJC order.", "series": "Note", "date": "2021-12-10", "elev": 1730.91}
    ]
  },
  "encoding": {
    "x": {
      "field": "date",
      "type": "temporal",
      "scale": {"type": "utc", "domain": [{"year": 2021, "month": 7, "date": 1, "utc": true}, {"year": 2022, "month": 10, "date": 1, "utc": true}]},
      "axis": {
        "values": [
          {"year": 2021, "month": 7, "date": 1, "utc": true},
          {"year": 2021, "month": 8, "date": 1, "utc": true},
          {"year": 2021, "month": 9, "date": 1, "utc": true},
          {"year": 2021, "month": 10, "date": 1, "utc": true},
          {"year": 2021, "month": 11, "date": 1, "utc": true},
          {"year": 2021, "month": 12, "date": 1, "utc": true},
          {"year": 2022, "month": 1, "date": 1, "utc": true},
          {"year": 2022, "month": 2, "date": 1, "utc": true},
          {"year": 2022, "month": 3, "date": 1, "utc": true},
          {"year": 2022, "month": 4, "date": 1, "utc": true},
          {"year": 2022, "month": 5, "date": 1, "utc": true},
          {"year": 2022, "month": 6, "date": 1, "utc": true},
          {"year": 2022, "month": 7, "date": 1, "utc": true},
          {"year": 2022, "month": 8, "date": 1, "utc": true},
          {"year": 2022, "month": 9, "date": 1, "utc": true}
        ],
        "labelExpr": "utcFormat(datum.value, '%b')",
        "labelOffset": 32,
        "labelFontSize": 19,
        "labelFontWeight": "bold",
        "labelColor": "#000",
        "labelPadding": 9,
        "labelOverlap": false,
        "labelFlush": false,
        "labelBound": false,
        "ticks": false,
        "grid": true,
        "gridColor": "#000",
        "gridDash": [9, 7],
        "gridWidth": 1,
        "gridOpacity": 0.85,
        "domainColor": "#000",
        "domainWidth": 1.5,
        "title": "Kootenay Lake at Queens Bay, British Columbia",
        "titleFontSize": 24,
        "titleFontWeight": "bold",
        "titleColor": "#000",
        "titlePadding": 15
      }
    }
  },
  "layer": [
    {
      "encoding": {
        "y": {
          "field": "elev",
          "type": "quantitative",
          "scale": {"domain": [1720, 1760], "nice": false, "zero": false},
          "axis": {
            "orient": "left",
            "values": [1720, 1724, 1728, 1732, 1736, 1740, 1744, 1748, 1752, 1756, 1760],
            "format": "d",
            "labelFontSize": 21,
            "labelFontWeight": "bold",
            "labelColor": "#000",
            "labelPadding": 10,
            "tickSize": 7,
            "tickWidth": 1.5,
            "tickColor": "#000",
            "domainColor": "#000",
            "domainWidth": 1.5,
            "grid": true,
            "gridColor": "#000",
            "gridDash": [9, 7],
            "gridWidth": 1,
            "gridOpacity": 0.85,
            "title": "ELEVATION IN FEET ABOVE MSL",
            "titleFontSize": 19,
            "titleFontWeight": "bold",
            "titleColor": "#000",
            "titleAngle": 270,
            "titleBaseline": "bottom",
            "titlePadding": 41
          }
        }
      },
      "layer": [
        {
          "data": {"name": "elevation"},
          "transform": [{"filter": "datum.series === 'IJC Upper Rule Curve (Fixed)'"}],
          "mark": {"type": "line", "strokeWidth": 4, "strokeDash": [27, 16]},
          "encoding": {
            "color": {"field": "series", "type": "nominal", "legend": null,
              "scale": {"domain": ["IJC Upper Rule Curve (Fixed)", "IJC Upper Rule Curve (Variable)", "Natural Lake Elevation", "Observed Elevation", "Observed Outflow", "Regulated Inflow", "Note"],
                        "range": ["#000080", "#000080", "#008000", "#FF0000", "#000080", "#008000", "#000000"]}}
          }
        },
        {
          "data": {"name": "elevation"},
          "transform": [{"filter": "datum.series !== 'IJC Upper Rule Curve (Fixed)'"}],
          "mark": {"type": "line", "strokeWidth": 3.6, "strokeJoin": "round"},
          "encoding": {
            "color": {"field": "series", "type": "nominal", "legend": null,
              "scale": {"domain": ["IJC Upper Rule Curve (Fixed)", "IJC Upper Rule Curve (Variable)", "Natural Lake Elevation", "Observed Elevation", "Observed Outflow", "Regulated Inflow", "Note"],
                        "range": ["#000080", "#000080", "#008000", "#FF0000", "#000080", "#008000", "#000000"]}}
          }
        },
        {
          "data": {"name": "legendText"},
          "mark": {"type": "text", "align": "left", "baseline": "middle", "fontSize": 20, "fontWeight": "bold"},
          "encoding": {
            "text": {"field": "label"},
            "color": {"field": "series", "type": "nominal", "legend": null,
              "scale": {"domain": ["IJC Upper Rule Curve (Fixed)", "IJC Upper Rule Curve (Variable)", "Natural Lake Elevation", "Observed Elevation", "Observed Outflow", "Regulated Inflow", "Note"],
                        "range": ["#000080", "#000080", "#008000", "#FF0000", "#000080", "#008000", "#000000"]}}
          }
        },
        {
          "data": {"name": "notes"},
          "mark": {"type": "text", "align": "center", "baseline": "middle", "fontSize": 20, "fontWeight": "bold"},
          "encoding": {
            "text": {"field": "label"},
            "color": {"field": "series", "type": "nominal", "legend": null,
              "scale": {"domain": ["IJC Upper Rule Curve (Fixed)", "IJC Upper Rule Curve (Variable)", "Natural Lake Elevation", "Observed Elevation", "Observed Outflow", "Regulated Inflow", "Note"],
                        "range": ["#000080", "#000080", "#008000", "#FF0000", "#000080", "#008000", "#000000"]}}
          }
        }
      ]
    },
    {
      "data": {"name": "flow"},
      "mark": {"type": "line", "strokeWidth": 3.4, "strokeJoin": "round"},
      "encoding": {
        "y": {
          "field": "flow",
          "type": "quantitative",
          "scale": {"domain": [0, 200], "nice": false},
          "axis": {
            "orient": "right",
            "values": [0, 20, 40, 60, 80, 100, 120, 140, 160, 180, 200],
            "labelFontSize": 21,
            "labelFontWeight": "bold",
            "labelColor": "#000",
            "labelPadding": 8,
            "tickSize": 7,
            "tickWidth": 1.5,
            "tickColor": "#000",
            "domainColor": "#000",
            "domainWidth": 1.5,
            "grid": false,
            "title": "FLOW IN 1,000 CFS",
            "titleFontSize": 19,
            "titleFontWeight": "bold",
            "titleColor": "#000",
            "titleAngle": 270,
            "titleBaseline": "top",
            "titlePadding": 38
          }
        },
        "color": {"field": "series", "type": "nominal", "legend": null,
          "scale": {"domain": ["IJC Upper Rule Curve (Fixed)", "IJC Upper Rule Curve (Variable)", "Natural Lake Elevation", "Observed Elevation", "Observed Outflow", "Regulated Inflow", "Note"],
                    "range": ["#000080", "#000080", "#008000", "#FF0000", "#000080", "#008000", "#000000"]}}
      }
    }
  ],
  "resolve": {"scale": {"y": "independent"}}
}
